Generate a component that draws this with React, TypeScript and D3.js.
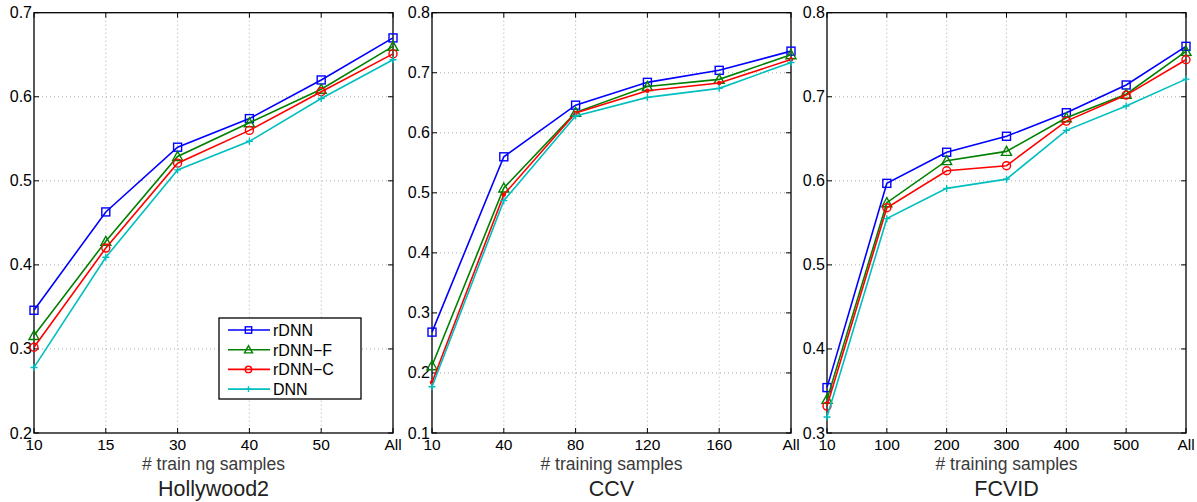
import * as d3 from 'd3'
import React, { useEffect, useRef } from 'react'

const seriesNames = ['rDNN', 'rDNN\u2212F', 'rDNN\u2212C', 'DNN']
const seriesColors = ['#0000ff', '#008000', '#ff0000', '#00bfbf']

const hollyCats = ['10', '15', '30', '40', '50', 'All']
const hollyRdnn = [0.346, 0.463, 0.54, 0.574, 0.62, 0.67]
const hollyRdnnF = [0.316, 0.428, 0.529, 0.569, 0.609, 0.66]
const hollyRdnnC = [0.302, 0.42, 0.521, 0.56, 0.606, 0.651]
const hollyDnn = [0.278, 0.409, 0.513, 0.547, 0.598, 0.644]
const hollyTicks = [0.2, 0.3, 0.4, 0.5, 0.6, 0.7]

const ccvCats = ['10', '40', '80', '120', '160', 'All']
const ccvRdnn = [0.268, 0.56, 0.646, 0.684, 0.704, 0.736]
const ccvRdnnF = [0.212, 0.508, 0.634, 0.677, 0.689, 0.73]
const ccvRdnnC = [0.184, 0.497, 0.633, 0.67, 0.683, 0.722]
const ccvDnn = [0.177, 0.487, 0.628, 0.659, 0.674, 0.717]
const ccvTicks = [0.1, 0.2, 0.3, 0.4, 0.5, 0.6, 0.7, 0.8]

const fcvidCats = ['10', '100', '200', '300', '400', '500', 'All']
const fcvidRdnn = [0.354, 0.597, 0.634, 0.653, 0.681, 0.714, 0.76]
const fcvidRdnnF = [0.34, 0.574, 0.624, 0.635, 0.675, 0.703, 0.754]
const fcvidRdnnC = [0.332, 0.568, 0.612, 0.618, 0.671, 0.702, 0.744]
const fcvidDnn = [0.319, 0.555, 0.591, 0.602, 0.66, 0.689, 0.721]
const fcvidTicks = [0.3, 0.4, 0.5, 0.6, 0.7, 0.8]

const panels = [
  {
    title: 'Hollywood2', xTitle: '# train ng samples', cats: hollyCats,
    series: [hollyRdnn, hollyRdnnF, hollyRdnnC, hollyDnn], ticks: hollyTicks,
    left: 34, right: 393, legend: true, redDot: false
  },
  {
    title: 'CCV', xTitle: '# training samples', cats: ccvCats,
    series: [ccvRdnn, ccvRdnnF, ccvRdnnC, ccvDnn], ticks: ccvTicks,
    left: 432, right: 791, legend: false, redDot: true
  },
  {
    title: 'FCVID', xTitle: '# training samples', cats: fcvidCats,
    series: [fcvidRdnn, fcvidRdnnF, fcvidRdnnC, fcvidDnn], ticks: fcvidTicks,
    left: 827, right: 1186, legend: false, redDot: false
  }
]

const top = 12.7
const bottom = 433
const font = 'Liberation Sans, Arial, Helvetica, sans-serif'

const drawMarker = (g, type, x, y, color, redDot, s = 1) => {
  if (type === 0) {
    g.append('rect').attr('x', x - 4 * s).attr('y', y - 4 * s).attr('width', 8 * s).attr('height', 8 * s)
      .attr('fill', 'none').attr('stroke', color).attr('stroke-width', 1.4)
  } else if (type === 1) {
    g.append('path').attr('d', `M${x},${y - 5 * s}L${x + 5 * s},${y + 4 * s}L${x - 5 * s},${y + 4 * s}Z`)
      .attr('fill', 'none').attr('stroke', color).attr('stroke-width', 1.4)
  } else if (type === 2) {
    if (redDot) {
      g.append('circle').attr('cx', x).attr('cy', y).attr('r', 2.2).attr('fill', color)
    } else {
      g.append('circle').attr('cx', x).attr('cy', y).attr('r', 4 * s)
        .attr('fill', 'none').attr('stroke', color).attr('stroke-width', 1.4)
    }
  } else {
    g.append('path').attr('d', `M${x - 3.5 * s},${y}H${x + 3.5 * s}M${x},${y - 3.5 * s}V${y + 3.5 * s}`)
      .attr('stroke', color).attr('stroke-width', 1.4)
  }
}

export default function App() {
  const ref = useRef(null)

  useEffect(() => {
    const svg = d3.select(ref.current)
    svg.selectAll('*').remove()

    panels.forEach(p => {
      const g = svg.append('g')
      const x = d3.scalePoint().domain(p.cats).range([p.left, p.right]).padding(0)
      const y = d3.scaleLinear()
        .domain([p.ticks[0], p.ticks[p.ticks.length - 1]])
        .range([bottom, top])

      // dotted grid
      p.cats.slice(1, -1).forEach(c => {
        g.append('line').attr('x1', x(c)).attr('x2', x(c)).attr('y1', top).attr('y2', bottom)
          .attr('stroke', '#999').attr('stroke-width', 0.8).attr('stroke-dasharray', '1,3')
      })
      p.ticks.slice(1, -1).forEach(t => {
        g.append('line').attr('x1', p.left).attr('x2', p.right).attr('y1', y(t)).attr('y2', y(t))
          .attr('stroke', '#999').attr('stroke-width', 0.8).attr('stroke-dasharray', '1,3')
      })

      // ticks inward on all sides
      p.cats.forEach(c => {
        g.append('line').attr('x1', x(c)).attr('x2', x(c)).attr('y1', bottom).attr('y2', bottom - 5)
          .attr('stroke', '#000')
        g.append('line').attr('x1', x(c)).attr('x2', x(c)).attr('y1', top).attr('y2', top + 5)
          .attr('stroke', '#000')
        g.append('text').attr('x', x(c)).attr('y', 449.5).attr('text-anchor', 'middle')
          .attr('font-family', font).attr('font-size', 15.5).attr('fill', '#000').text(c)
      })
      p.ticks.forEach(t => {
        g.append('line').attr('x1', p.left).attr('x2', p.left + 5).attr('y1', y(t)).attr('y2', y(t))
          .attr('stroke', '#000')
        g.append('line').attr('x1', p.right).attr('x2', p.right - 5).attr('y1', y(t)).attr('y2', y(t))
          .attr('stroke', '#000')
        g.append('text').attr('x', p.left - 2).attr('y', y(t) + 5.5).attr('text-anchor', 'end')
          .attr('font-family', font).attr('font-size', 16).attr('fill', '#000').text(t.toFixed(1))
      })

      g.append('rect').attr('x', p.left).attr('y', top).attr('width', p.right - p.left)
        .attr('height', bottom - top).attr('fill', 'none').attr('stroke', '#000').attr('stroke-width', 1.3)

      // series
      const line = d3.line().x((d, i) => x(p.cats[i])).y(d => y(d))
      p.series.forEach((vals, si) => {
        g.append('path').attr('d', line(vals)).attr('fill', 'none')
          .attr('stroke', seriesColors[si]).attr('stroke-width', 1.6)
        vals.forEach((v, i) => drawMarker(g, si, x(p.cats[i]), y(v), seriesColors[si], p.redDot))
      })

      const cx = (p.left + p.right) / 2
      g.append('text').attr('x', cx).attr('y', 470).attr('text-anchor', 'middle')
        .attr('font-family', font).attr('font-size', 17.5).attr('fill', '#3a3a3a').text(p.xTitle)
      g.append('text').attr('x', cx).attr('y', 496).attr('text-anchor', 'middle')
        .attr('font-family', font).attr('font-size', 21.5).attr('fill', '#222').text(p.title)

      if (p.legend) {
        const lg = g.append('g')
        lg.append('rect').attr('x', 219).attr('y', 318).attr('width', 142).attr('height', 81)
          .attr('fill', '#fff').attr('stroke', '#000').attr('stroke-width', 1.3)
        seriesNames.forEach((name, si) => {
          const ly = 330 + si * 19.7
          lg.append('line').attr('x1', 228).attr('x2', 270).attr('y1', ly).attr('y2', ly)
            .attr('stroke', seriesColors[si]).attr('stroke-width', 1.6)
          drawMarker(lg, si, 248.5, ly, seriesColors[si], false, 0.8)
          lg.append('text').attr('x', 273).attr('y', ly + 5.8).attr('font-family', font)
            .attr('font-size', 16).attr('fill', '#000').text(name)
        })
      }
    })
  }, [ref])

  return (
    <svg ref={ref} width="1197" height="502"
      style={{ position: 'absolute', left: 0, top: 0, background: '#fff' }} />
  )
}
